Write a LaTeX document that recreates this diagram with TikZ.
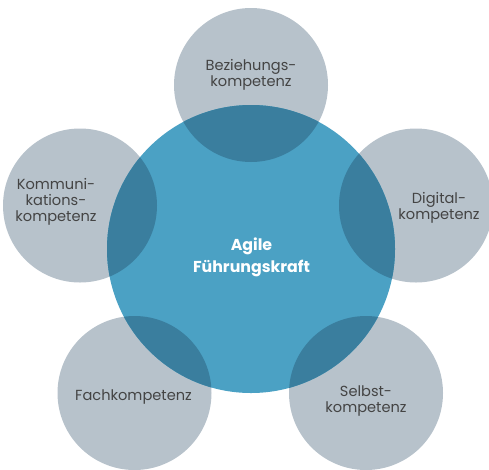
\documentclass[tikz,border=0pt]{standalone}
\usepackage{fontspec}
\setmainfont{Poppins}
\definecolor{greyc}{HTML}{B7C2CB}
\definecolor{bluec}{HTML}{4BA1C4}
\definecolor{darkc}{HTML}{3A7E9E}
\definecolor{txtc}{HTML}{444444}
\begin{document}
\begin{tikzpicture}[x=1pt,y=-1pt,
  outer/.style={circle, fill=greyc, minimum size=154pt, inner sep=0pt},
  core/.style={circle, fill=bluec, minimum size=288pt, inner sep=0pt},
  lbl/.style={align=center, text=txtc, font=\fontsize{14.6}{16}\selectfont, inner sep=0pt},
  corelbl/.style={align=center, text=white, font=\fontsize{15.8}{22}\selectfont\bfseries, inner sep=0pt}]
\useasboundingbox (0,0) rectangle (489,469);
\clip (0,0) rectangle (489,469);
\node[outer] (bez) at (251,85) {};
\node[outer] (kom) at (80,205.5) {};
\node[outer] (dig) at (416,205.5) {};
\node[outer] (fach) at (134.5,393) {};
\node[outer] (selb) at (366,393) {};
\node[core] (mid) at (251,249) {};
\begin{scope}
  \clip (251,249) circle (144pt);
  \foreach \p in {(251,85),(80,205.5),(416,205.5),(134.5,393),(366,393)}
    \fill[darkc] \p circle (77pt);
\end{scope}
\node[lbl] (tbez) at (251,75) {Beziehungs-\\kompetenz};
\node[lbl] (tkom) at (56,202) {Kommuni-\\kations-\\kompetenz};
\node[lbl] (tdig) at (439,208) {Digital-\\kompetenz};
\node[lbl] (tfach) at (133.5,397) {Fachkompetenz};
\node[lbl] (tselb) at (366,401) {Selbst-\\kompetenz};
\node[corelbl] (tmid) at (251.5,257) {Agile\\Führungskraft};
\end{tikzpicture}
\end{document}
